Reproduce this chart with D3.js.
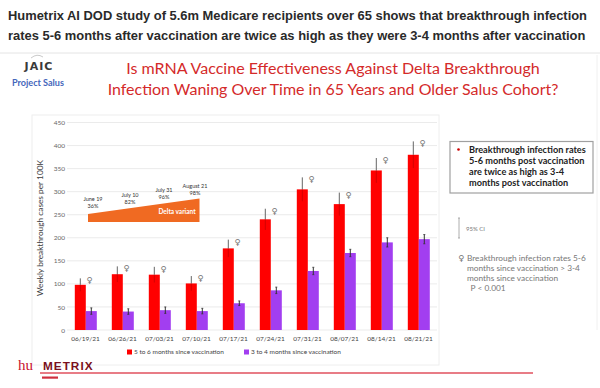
<!DOCTYPE html>
<html><head><meta charset="utf-8">
<script src="https://cdn.jsdelivr.net/npm/d3@7/dist/d3.min.js"></script>
<style>body{margin:0;background:#fff}svg{display:block}</style>
</head><body>
<svg id="c" width="600" height="388"></svg>
<script>
const categories = ["06/19/21","06/26/21","07/03/21","07/10/21","07/17/21","07/24/21","07/31/21","08/07/21","08/14/21","08/21/21"];
const redValues = [98,121,120,101,177,240,305,273,346,380];
const redUpper = [112,138,137,117,196,263,331,298,373,409];
const purpleValues = [41,40,43,41,58,86,128,167,190,197];
const purpleUpper = [48,46,50,47,63,93,136,175,200,207];
const yTicks = [0,50,100,150,200,250,300,350,400,450];
const seriesNames = ["5 to 6 months since vaccination","3 to 4 months since vaccination"];
const deltaMarks = [{date:"June 19",pct:"36%"},{date:"July 10",pct:"82%"},{date:"July 31",pct:"96%"},{date:"August 21",pct:"98%"}];

const svg = d3.select("#c");
function fit(sel, w){ const n=sel.node(); const fs=parseFloat(sel.style("font-size")); const cw=n.getComputedTextLength(); sel.style("font-size",(fs*w/cw)+"px"); return sel;}

// title
const T1 = ["Humetrix AI DOD study of 5.6m Medicare recipients over 65 shows that breakthrough infection",
            "rates 5-6 months after vaccination are twice as high as they were 3-4 months after vaccination"];
const tw=[580,578];
T1.forEach((t,i)=>{ const s=svg.append("text").attr("x",8).attr("y",20+i*20).text(t)
  .style("font-family","Liberation Sans, Arial, sans-serif").style("font-weight","bold").style("font-size","13px").attr("fill","#2a2a2a"); fit(s,tw[i]); });
svg.append("line").attr("x1",0).attr("x2",600).attr("y1",53).attr("y2",53).attr("stroke","#e4e4e4");

// JAIC logo
svg.append("text").attr("x",39).attr("y",70).attr("text-anchor","middle").text("JAIC")
  .style("font-family","DejaVu Sans, sans-serif").style("font-weight","bold").style("font-size","11px").attr("letter-spacing","1px").attr("fill","#3a3a3a");
svg.append("path").attr("d","M31,58 Q37,53 43,57").attr("fill","none").attr("stroke","#bbb").attr("stroke-width",0.8);
const ps=svg.append("text").attr("x",12).attr("y",86).text("Project Salus")
  .style("font-family","Lato, sans-serif").style("font-weight","bold").style("font-size","8.5px").attr("fill","#4466bb"); fit(ps,52);

// subtitle
const S = ["Is mRNA Vaccine Effectiveness Against Delta Breakthrough","Infection Waning Over Time in 65 Years and Older Salus Cohort?"];
const sw=[414,451];
S.forEach((t,i)=>{ const s=svg.append("text").attr("x",333).attr("y",74+i*21).attr("text-anchor","middle").text(t)
  .style("font-family","Lato, sans-serif").style("font-size","17px").attr("fill","#d42a2a"); fit(s,sw[i]); });

// chart frame
svg.append("rect").attr("x",32).attr("y",115).attr("width",407).attr("height",250).attr("fill","none").attr("stroke","#eeeeee");
svg.append("line").attr("x1",597).attr("x2",597).attr("y1",55).attr("y2",330).attr("stroke","#f0f0f0");

const x = d3.scaleBand().domain(categories).range([67,437]);
const y = d3.scaleLinear().domain([0,450]).range([330,122.5]);

// grid
svg.append("g").selectAll("line").data(yTicks).join("line")
  .attr("x1",67).attr("x2",437).attr("y1",d=>y(d)).attr("y2",d=>y(d)).attr("stroke","#e6e6e6").attr("stroke-width",0.8);
const yAxis = svg.append("g").attr("transform","translate(65,0)").call(d3.axisLeft(y).tickValues(yTicks).tickSize(0).tickPadding(0));
yAxis.select(".domain").remove();
yAxis.selectAll("text").style("font-family","Lato, sans-serif").style("font-size","6.5px").attr("fill","#666");
const xAxis = svg.append("g").attr("transform","translate(0,332)").call(d3.axisBottom(x).tickSize(0).tickPadding(4));
xAxis.select(".domain").remove();
xAxis.selectAll("text").style("font-family","Lato, sans-serif").style("font-size","6.5px").attr("fill","#444");

svg.append("text").attr("transform","translate(43,228) rotate(-90)").attr("text-anchor","middle")
  .text("Weekly breakthrough cases per 100K").style("font-family","Lato, sans-serif").style("font-size","8.3px").attr("fill","#3a3a3a");

// delta annotation
const xc = c=>x(c)+x.bandwidth()/2;
const dx0 = xc(categories[0])+2.5, dx1 = xc(categories[3])+3;
svg.append("polygon").attr("points",`${dx0},214 ${dx1},198.5 ${dx1},222 ${dx0},222`).attr("fill","#f06a22");
svg.append("text").attr("x",177).attr("y",214).attr("text-anchor","middle").text("Delta variant")
  .style("font-family","Lato, sans-serif").style("font-weight","bold").style("font-size","6.5px").attr("fill","#fff");
const dpos=[[93,200.5],[130,196.5],[164,191.5],[195,187.5]];
deltaMarks.forEach((d,i)=>{
  const g=svg.append("g").style("font-family","Lato, sans-serif").style("font-size","5.5px").attr("fill","#333");
  g.append("text").attr("x",dpos[i][0]).attr("y",dpos[i][1]).attr("text-anchor","middle").text(d.date);
  g.append("text").attr("x",dpos[i][0]).attr("y",dpos[i][1]+7.5).attr("text-anchor","middle").text(d.pct);
});

// bars
const bw = 11;
const bars = svg.append("g");
categories.forEach((c,i)=>{
  const cx = xc(c)+0.3;
  bars.append("rect").attr("x",cx-bw).attr("width",bw).attr("y",y(redValues[i])).attr("height",y(0)-y(redValues[i])).attr("fill","#ff0000");
  bars.append("rect").attr("x",cx).attr("width",bw).attr("y",y(purpleValues[i])).attr("height",y(0)-y(purpleValues[i])).attr("fill","#a23ef0");
  const rl = 2*redValues[i]-redUpper[i];
  bars.append("line").attr("x1",cx-bw/2).attr("x2",cx-bw/2).attr("y1",y(redUpper[i])).attr("y2",y(redValues[i])).attr("stroke","#666").attr("stroke-width",1);
  bars.append("line").attr("x1",cx-bw/2).attr("x2",cx-bw/2).attr("y1",y(redValues[i])).attr("y2",y(rl)).attr("stroke","#c00000").attr("stroke-width",0.7);
  const pl = 2*purpleValues[i]-purpleUpper[i];
  bars.append("line").attr("x1",cx+bw/2).attr("x2",cx+bw/2).attr("y1",y(purpleUpper[i])).attr("y2",y(pl)).attr("stroke","#333").attr("stroke-width",1);
  bars.append("line").attr("x1",cx+bw/2-1).attr("x2",cx+bw/2+1).attr("y1",y(purpleUpper[i])).attr("y2",y(purpleUpper[i])).attr("stroke","#333").attr("stroke-width",0.8);
  bars.append("line").attr("x1",cx+bw/2-1).attr("x2",cx+bw/2+1).attr("y1",y(pl)).attr("y2",y(pl)).attr("stroke","#333").attr("stroke-width",0.8);
  bars.append("text").attr("x",cx+3.5).attr("y",y(redUpper[i])+5).attr("text-anchor","middle").text("♀")
    .style("font-family","DejaVu Sans, sans-serif").style("font-size","8.5px").attr("fill","#777");
});

// legend
const leg=[[127,"#ff0000"],[244,"#a23ef0"]];
leg.forEach((l,i)=>{
  svg.append("rect").attr("x",l[0]).attr("y",349.5).attr("width",5).attr("height",5).attr("fill",l[1]);
  svg.append("text").attr("x",l[0]+7).attr("y",354.3).text(seriesNames[i]).style("font-family","Lato, sans-serif").style("font-size","6.5px").attr("fill","#444");
});

// right panel
svg.append("rect").attr("x",450).attr("y",141.5).attr("width",143).attr("height",51.5).attr("fill","#fff").attr("stroke","#a0a0a0").attr("stroke-width",1.2);
svg.append("circle").attr("cx",458.5).attr("cy",149.5).attr("r",1.3).attr("fill","#cc0000");
const boxT=["Breakthrough infection rates","5-6 months post vaccination","are twice as high as 3-4","months post vaccination"];
let bfs=null;
boxT.forEach((t,i)=>{ const s=svg.append("text").attr("x",469).attr("y",153+i*11).text(t)
  .style("font-family","Lato, sans-serif").style("font-weight","bold").style("font-size","9.5px").attr("fill","#222");
  if(i===0){fit(s,117); bfs=s.style("font-size");} else s.style("font-size",bfs); });

svg.append("line").attr("x1",459).attr("x2",459).attr("y1",218).attr("y2",238).attr("stroke","#999").attr("stroke-width",0.8);
svg.append("line").attr("x1",458).attr("x2",460).attr("y1",218).attr("y2",218).attr("stroke","#999").attr("stroke-width",0.8);
svg.append("line").attr("x1",458).attr("x2",460).attr("y1",238).attr("y2",238).attr("stroke","#999").attr("stroke-width",0.8);
svg.append("text").attr("x",466).attr("y",231).text("95% CI").style("font-family","Lato, sans-serif").style("font-size","6px").attr("fill","#777");

svg.append("text").attr("x",461).attr("y",261).attr("text-anchor","middle").text("♀").style("font-family","DejaVu Sans, sans-serif").style("font-size","8.5px").attr("fill","#777");
const pT=["Breakthrough infection rates 5-6","months since vaccination > 3-4","months since vaccination"," P < 0.001"];
let pfs=null;
pT.forEach((t,i)=>{ const s=svg.append("text").attr("x",i===3?468.5:467).attr("y",260.5+i*10).text(t).attr("xml:space","preserve")
  .style("font-family","Lato, sans-serif").style("font-size","7.5px").attr("fill","#777");
  if(i===0){fit(s,119); pfs=s.style("font-size");} else s.style("font-size",pfs); });

// humetrix logo
svg.append("text").attr("x",18).attr("y",369.5).text("hu").style("font-family","Liberation Serif, serif").style("font-size","15px").attr("fill","#c8102e");
const mt=svg.append("text").attr("x",43).attr("y",370).text("METRIX").style("font-family","Liberation Sans, Arial, sans-serif").style("font-weight","bold").style("font-size","9.5px").attr("letter-spacing","1px").attr("fill","#7a1020");
fit(mt,52);
svg.append("line").attr("x1",40).attr("x2",533).attr("y1",373).attr("y2",373).attr("stroke","#e0505e").attr("stroke-width",1.3);
svg.append("rect").attr("x",42).attr("y",376.5).attr("width",16).attr("height",2.2).attr("fill","#d03040");
</script>
</body></html>
